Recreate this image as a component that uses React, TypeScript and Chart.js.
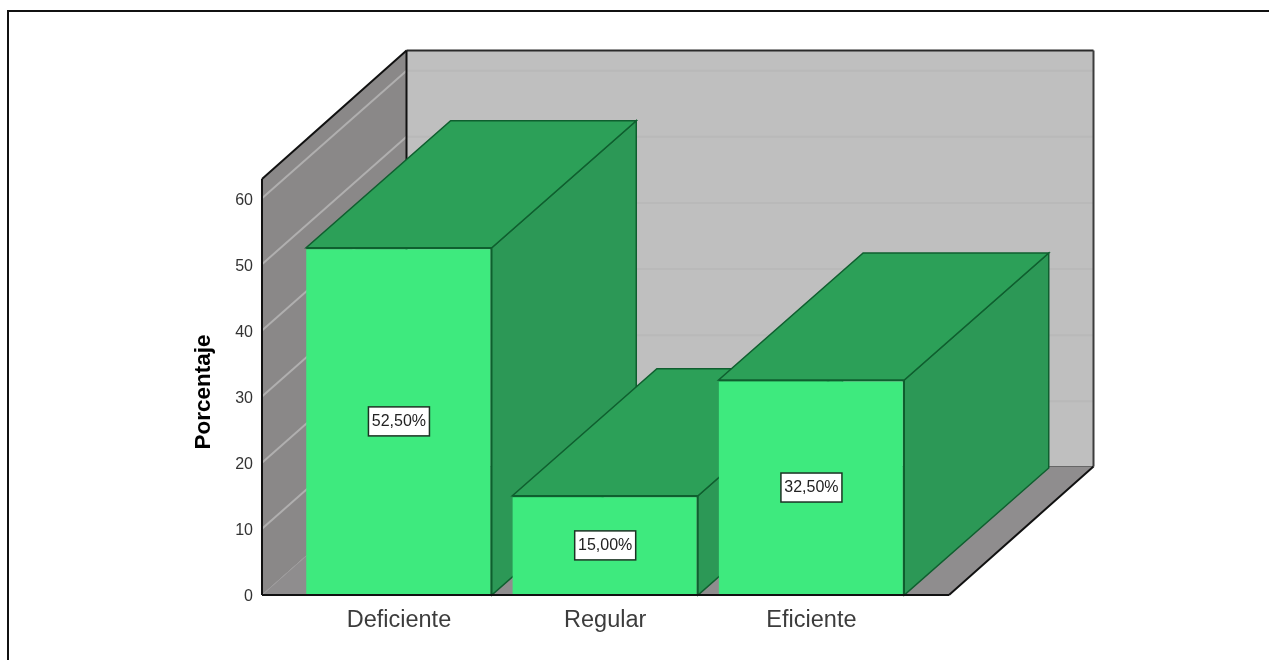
import React, { useEffect, useRef } from "react";
import { Chart, registerables } from "chart.js";

Chart.register(...registerables);

const categories = ["Deficiente", "Regular", "Eficiente"];
const percentages = [52.5, 15, 32.5];
const yTicks = [0, 10, 20, 30, 40, 50, 60];
const yAxisTitle = "Porcentaje";

const FONT = '"Liberation Sans", Arial, sans-serif';
const DEPTH_X = 144.5;
const DEPTH_Y = -128.5;
const BAR_DEPTH_Y = -127;
const GRID_DEPTH_Y = -127.5;
const TITLE_SHIFT_Y = 5;

const poly = (ctx: CanvasRenderingContext2D, pts: number[][], fill: string | null, stroke: string | null, lw = 1) => {
  ctx.beginPath();
  pts.forEach((p, i) => (i ? ctx.lineTo(p[0], p[1]) : ctx.moveTo(p[0], p[1])));
  ctx.closePath();
  if (fill) {
    ctx.fillStyle = fill;
    ctx.fill();
  }
  if (stroke) {
    ctx.strokeStyle = stroke;
    ctx.lineWidth = lw;
    ctx.stroke();
  }
};

const line = (ctx: CanvasRenderingContext2D, a: number[], b: number[], color: string, lw: number) => {
  ctx.beginPath();
  ctx.moveTo(a[0], a[1]);
  ctx.lineTo(b[0], b[1]);
  ctx.strokeStyle = color;
  ctx.lineWidth = lw;
  ctx.stroke();
};

const box3d = {
  id: "box3d",
  beforeDraw(chart: any) {
    const { ctx } = chart;
    ctx.save();
    // frame around the picture (only top and left edges are visible)
    line(ctx, [8, 660], [8, 11], "#111", 2);
    line(ctx, [7, 11], [1269, 11], "#111", 2);
    ctx.restore();
  },
  beforeDatasetsDraw(chart: any) {
    const { ctx, chartArea: a, scales } = chart;
    const y = scales.y;
    const dx = DEPTH_X;
    const dy = DEPTH_Y;
    ctx.save();
    // back wall
    poly(ctx, [[a.left + dx, a.top + dy], [a.right + dx, a.top + dy], [a.right + dx, a.bottom + dy], [a.left + dx, a.bottom + dy]], "#bfbfbf", null);
    // floor
    poly(ctx, [[a.left, a.bottom], [a.right, a.bottom], [a.right + dx, a.bottom + dy], [a.left + dx, a.bottom + dy]], "#8f8d8e", null);
    // left wall
    poly(ctx, [[a.left, a.top], [a.left + dx, a.top + dy], [a.left + dx, a.bottom + dy], [a.left, a.bottom]], "#8a8888", null);
    // grid lines
    yTicks.forEach((t) => {
      const py = y.getPixelForValue(t);
      line(ctx, [a.left, py], [a.left + dx, py + GRID_DEPTH_Y], t === 0 ? "#9c9a9b" : "#b0afaf", t === 0 ? 1 : 2);
      if (t > 0) line(ctx, [a.left + dx, py + GRID_DEPTH_Y], [a.right + dx, py + GRID_DEPTH_Y], "#b9b9b9", 2);
    });
    // wall edges
    line(ctx, [a.left + dx, a.top + dy], [a.right + dx, a.top + dy], "#2a2a2a", 2);
    line(ctx, [a.right + dx, a.top + dy], [a.right + dx, a.bottom + dy], "#3c3c3c", 2);
    line(ctx, [a.left + dx, a.bottom + dy], [a.right + dx, a.bottom + dy], "#666", 1);
    line(ctx, [a.left + dx, a.top + dy], [a.left + dx, a.bottom + dy], "#111", 2);
    line(ctx, [a.left, a.top], [a.left + dx, a.top + dy], "#111", 2);
    line(ctx, [a.left, a.top], [a.left, a.bottom], "#111", 2);
    line(ctx, [a.right, a.bottom], [a.right + dx, a.bottom + dy], "#111", 2);

    // depth faces of the bars, back to front from left to right
    const meta = chart.getDatasetMeta(0);
    meta.data.forEach((el: any) => {
      const { x, y: top, base, width } = el.getProps(["x", "y", "base", "width"], true);
      const l = x - width / 2;
      const r = x + width / 2;
      const edge = "#0f5f2f";
      const bdy = BAR_DEPTH_Y;
      poly(ctx, [[r, top], [r + dx, top + bdy], [r + dx, base + bdy], [r, base]], "#2c9856", edge, 1.5);
      poly(ctx, [[l, top], [r, top], [r + dx, top + bdy], [l + dx, top + bdy]], "#2ca058", edge, 1.5);
    });
    ctx.restore();
  },
  afterDatasetsDraw(chart: any) {
    const { ctx, chartArea: a } = chart;
    const meta = chart.getDatasetMeta(0);
    ctx.save();
    line(ctx, [a.left, a.bottom], [a.right, a.bottom], "#111", 2);
    ctx.font = `16px ${FONT}`;
    ctx.textAlign = "center";
    ctx.textBaseline = "middle";
    meta.data.forEach((el: any, i: number) => {
      const { x, y: top, base } = el.getProps(["x", "y", "base"], true);
      const cy = (top + base) / 2;
      const label = percentages[i].toFixed(2).replace(".", ",") + "%";
      ctx.fillStyle = "#ffffff";
      ctx.strokeStyle = "#1c3324";
      ctx.lineWidth = 1.5;
      ctx.fillRect(x - 30.5, cy - 14.5, 61, 29);
      ctx.strokeRect(x - 30.5, cy - 14.5, 61, 29);
      ctx.fillStyle = "#222";
      ctx.fillText(label, x, cy + 0.5);
    });
    ctx.restore();
  },
};

export default function App() {
  const ref = useRef<HTMLCanvasElement>(null);
  useEffect(() => {
    document.body.style.margin = "0";
    const chart = new Chart(ref.current as HTMLCanvasElement, {
      type: "bar",
      data: {
        datasets: [
          {
            data: percentages.map((v, i) => ({ x: i, y: v })),
            backgroundColor: "#3eea7e",
            borderColor: "#0f5f2f",
            borderWidth: { top: 1.5, right: 1.5, bottom: 0, left: 0 },
            borderSkipped: false,
            barPercentage: 0.9,
            categoryPercentage: 1,
          } as any,
        ],
      },
      plugins: [box3d as any],
      options: {
        animation: false,
        responsive: false,
        devicePixelRatio: 1,
        layout: { padding: { left: 190, top: 179, right: 320, bottom: 0 } },
        plugins: { legend: { display: false }, tooltip: { enabled: false }, title: { display: false } },
        scales: {
          x: {
            type: "linear",
            offset: false,
            min: -0.664,
            max: 2.667,
            grid: { display: false },
            border: { display: false },
            afterBuildTicks: (s: any) => {
              s.ticks = categories.map((_, i) => ({ value: i }));
            },
            afterFit: (s: any) => {
              s.height = 65;
            },
            ticks: {
              autoSkip: false,
              maxRotation: 0,
              padding: 3,
              color: "#3c3c3c",
              font: { family: FONT, size: 23.5 },
              callback: (v: any) => categories[v] ?? "",
            },
          },
          y: {
            min: 0,
            max: 62.9,
            grid: { display: false },
            border: { display: false },
            afterBuildTicks: (s: any) => {
              s.ticks = yTicks.map((value) => ({ value }));
            },
            afterFit: (s: any) => {
              s.width = 72;
            },
            afterUpdate: (s: any) => {
              if (s.__titleShifted) return;
              s.__titleShifted = true;
              const drawTitle = s.drawTitle;
              s.drawTitle = function () {
                s.ctx.save();
                s.ctx.translate(0, TITLE_SHIFT_Y);
                drawTitle.call(s);
                s.ctx.restore();
              };
            },
            ticks: {
              padding: 1,
              labelOffset: 2,
              color: "#333",
              font: { family: FONT, size: 16 },
            },
            title: {
              display: true,
              text: yAxisTitle,
              color: "#000",
              padding: { top: 0, bottom: 0 },
              font: { family: FONT, size: 22.5, weight: "bold" },
            },
          },
        },
      } as any,
    });
    return () => chart.destroy();
  }, []);
  return (
    <div style={{ position: "absolute", left: 0, top: 0, width: 1269, height: 660, overflow: "hidden", background: "#fff" }}>
      <canvas ref={ref} width={1269} height={660} style={{ display: "block" }} />
    </div>
  );
}
